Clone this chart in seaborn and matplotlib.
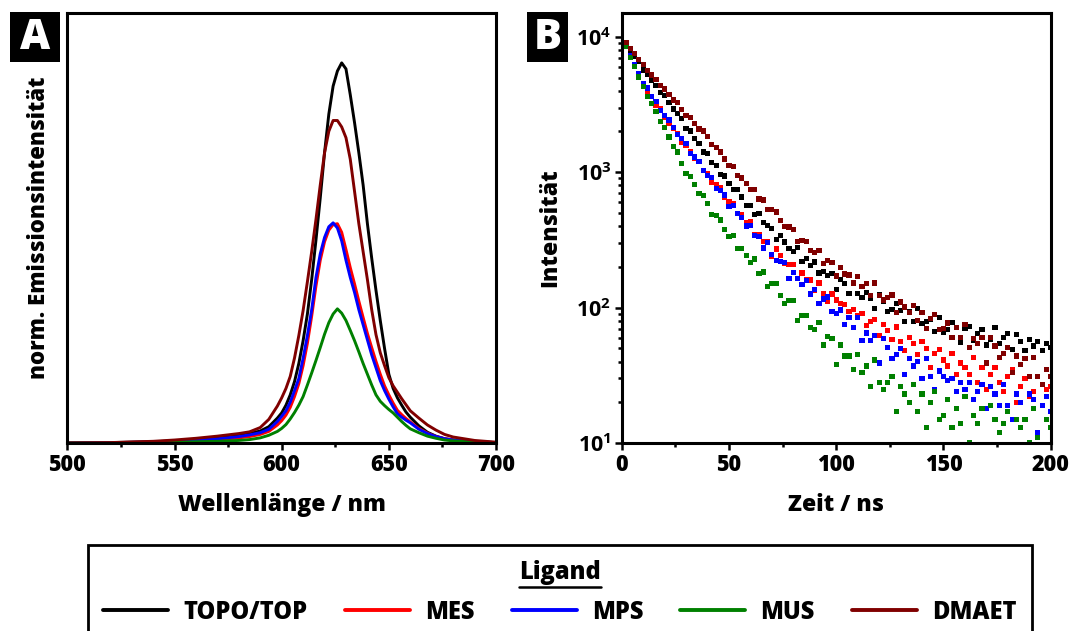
import numpy as np
import pandas as pd
import matplotlib
matplotlib.use("Agg")
import matplotlib.pyplot as plt
import seaborn as sns
from matplotlib.patches import Rectangle
from matplotlib.lines import Line2D
from matplotlib.ticker import MultipleLocator, LogLocator, NullFormatter, FuncFormatter


# Data

ligands = ["TOPO/TOP", "MES", "MPS", "MUS", "DMAET"]
colors = ["#000000", "#ff0000", "#0000ff", "#008000", "#800000"]

# Panel A: normalised emission spectra
wavelength = [500, 520, 540, 550, 560, 570, 580, 585, 590, 594,
              598, 600, 602, 604, 606, 608, 610, 612, 614, 616,
              618, 620, 622, 624, 626, 628, 630, 632, 634, 636,
              638, 640, 642, 644, 646, 648, 650, 652, 654, 656,
              658, 660, 664, 668, 672, 676, 680, 690, 700]
em_topo = [0, 0.001, 0.003, 0.005, 0.008, 0.012, 0.018, 0.022, 0.028, 0.038,
           0.058, 0.07, 0.088, 0.112, 0.143, 0.185, 0.238, 0.3, 0.38, 0.472,
           0.57, 0.675, 0.765, 0.83, 0.865, 0.884, 0.87, 0.81, 0.745, 0.675,
           0.6, 0.51, 0.43, 0.355, 0.285, 0.22, 0.16, 0.127, 0.105, 0.088,
           0.072, 0.06, 0.04, 0.025, 0.016, 0.01, 0.007, 0.003, 0.001]
em_mes = [0, 0.001, 0.002, 0.003, 0.005, 0.008, 0.012, 0.015, 0.02, 0.027,
          0.042, 0.052, 0.065, 0.083, 0.108, 0.138, 0.18, 0.232, 0.295, 0.365,
          0.425, 0.468, 0.495, 0.508, 0.51, 0.49, 0.45, 0.408, 0.37, 0.33,
          0.292, 0.255, 0.222, 0.19, 0.16, 0.133, 0.112, 0.093, 0.076, 0.066,
          0.057, 0.049, 0.034, 0.023, 0.015, 0.01, 0.007, 0.003, 0.001]
em_mps = [0, 0.001, 0.002, 0.004, 0.006, 0.01, 0.015, 0.019, 0.024, 0.032,
          0.05, 0.062, 0.075, 0.095, 0.122, 0.15, 0.197, 0.25, 0.31, 0.385,
          0.44, 0.478, 0.503, 0.512, 0.5, 0.47, 0.425, 0.385, 0.35, 0.31,
          0.275, 0.24, 0.205, 0.175, 0.145, 0.122, 0.102, 0.084, 0.068, 0.06,
          0.053, 0.047, 0.032, 0.022, 0.015, 0.01, 0.007, 0.003, 0.001]
em_mus = [0, 0, 0.001, 0.002, 0.003, 0.004, 0.006, 0.008, 0.012, 0.018,
          0.027, 0.034, 0.043, 0.056, 0.071, 0.088, 0.108, 0.135, 0.163, 0.192,
          0.222, 0.253, 0.28, 0.3, 0.312, 0.302, 0.285, 0.262, 0.238, 0.212,
          0.185, 0.16, 0.135, 0.112, 0.097, 0.087, 0.078, 0.07, 0.06, 0.05,
          0.041, 0.033, 0.024, 0.016, 0.011, 0.007, 0.005, 0.002, 0.001]
em_dmaet = [0, 0.001, 0.004, 0.007, 0.011, 0.016, 0.022, 0.026, 0.036, 0.055,
            0.086, 0.105, 0.127, 0.155, 0.198, 0.25, 0.308, 0.375, 0.445, 0.52,
            0.6, 0.675, 0.725, 0.75, 0.75, 0.735, 0.71, 0.66, 0.585, 0.51,
            0.445, 0.38, 0.31, 0.252, 0.21, 0.18, 0.152, 0.133, 0.118, 0.103,
            0.089, 0.075, 0.058, 0.042, 0.03, 0.02, 0.014, 0.006, 0.002]

# Panel B: decay curves (counts)
time_ns = [0, 2, 4, 6, 8, 10, 12, 14, 16, 18,
           20, 22, 24, 26, 28, 30, 32, 34, 36, 38,
           40, 42, 44, 46, 48, 50, 52, 54, 56, 58,
           60, 62, 64, 66, 68, 70, 72, 74, 76, 78,
           80, 82, 84, 86, 88, 90, 92, 94, 96, 98,
           100, 102, 104, 106, 108, 110, 112, 114, 116, 118,
           120, 122, 124, 126, 128, 130, 132, 134, 136, 138,
           140, 142, 144, 146, 148, 150, 152, 154, 156, 158,
           160, 162, 164, 166, 168, 170, 172, 174, 176, 178,
           180, 182, 184, 186, 188, 190, 192, 194, 196, 198,
           200]
decay_topo = [10000, 9020, 7918, 7144, 6531, 5686, 5291, 4779, 4398, 3893,
              3691, 3287, 2932, 2700, 2480, 2104, 2013, 1773, 1622, 1413,
              1380, 1185, 1116, 968, 939, 826, 747, 742, 657, 565,
              566, 488, 494, 427, 404, 382, 317, 342, 305, 272,
              258, 277, 218, 232, 204, 217, 180, 186, 173, 178,
              137, 161, 151, 127, 151, 127, 118, 130, 117, 98,
              124, 111, 94, 97, 107, 95, 79, 94, 79, 99,
              76, 79, 82, 67, 84, 66, 69, 78, 71, 55,
              70, 73, 57, 64, 69, 53, 58, 71, 54, 60,
              64, 49, 63, 56, 48, 58, 52, 56, 48, 54,
              51]
decay_mes = [10000, 8594, 7235, 6190, 5190, 4547, 3968, 3617, 3138, 2968,
             2555, 2294, 2108, 1941, 1648, 1569, 1410, 1262, 1196, 1023,
             977, 836, 810, 773, 655, 612, 587, 495, 487, 425,
             432, 345, 344, 310, 305, 240, 271, 243, 213, 209,
             209, 165, 180, 162, 160, 134, 152, 126, 112, 126,
             114, 107, 105, 93, 97, 87, 91, 74, 79, 82,
             62, 75, 68, 58, 72, 56, 48, 60, 54, 45,
             56, 50, 36, 46, 49, 41, 37, 46, 32, 39,
             36, 32, 43, 28, 36, 25, 32, 36, 28, 24,
             31, 35, 20, 26, 30, 22, 24, 31, 19, 25,
             26]
decay_mps = [10000, 8661, 7226, 6284, 5346, 4537, 4195, 3615, 3315, 2868,
             2640, 2431, 2134, 1901, 1775, 1637, 1379, 1294, 1196, 1037,
             949, 916, 763, 735, 679, 561, 571, 499, 463, 401,
             403, 341, 333, 276, 303, 246, 224, 220, 215, 165,
             181, 165, 149, 158, 126, 137, 107, 116, 120, 93,
             91, 96, 75, 84, 71, 85, 57, 65, 57, 62,
             39, 59, 51, 42, 45, 50, 32, 42, 37, 40,
             30, 42, 31, 25, 34, 31, 29, 30, 24, 28,
             25, 28, 21, 24, 27, 18, 26, 23, 19, 27,
             19, 15, 23, 20, 15, 23, 21, 12, 19, 22,
             17]
decay_mus = [10000, 8461, 7070, 6029, 5044, 4305, 3649, 3212, 2828, 2356,
             2126, 1820, 1546, 1413, 1166, 985, 933, 816, 700, 671,
             587, 486, 477, 444, 380, 334, 339, 274, 273, 244,
             216, 229, 179, 183, 144, 150, 150, 123, 107, 113,
             113, 80, 87, 88, 71, 69, 78, 53, 61, 59,
             38, 53, 44, 44, 35, 45, 33, 37, 26, 41,
             28, 25, 28, 31, 17, 26, 23, 20, 27, 17,
             23, 13, 20, 24, 15, 16, 21, 13, 18, 14,
             22, 10, 16, 14, 18, 8, 19, 15, 12, 14,
             17, 8, 15, 13, 15, 10, 18, 11, 9, 15,
             13]
decay_dmaet = [10000, 9107, 8196, 7517, 6775, 6213, 5615, 5231, 4870, 4353,
               4125, 3762, 3416, 3256, 2903, 2630, 2524, 2306, 2087, 2013,
               1841, 1599, 1526, 1413, 1252, 1124, 1096, 942, 907, 824,
               745, 748, 634, 623, 534, 530, 509, 442, 396, 394,
               380, 308, 312, 306, 264, 254, 266, 213, 224, 216,
               171, 198, 177, 174, 152, 170, 143, 150, 123, 152,
               123, 114, 119, 124, 92, 110, 101, 92, 103, 80,
               92, 70, 83, 89, 69, 70, 77, 60, 71, 60,
               75, 51, 59, 54, 60, 39, 60, 52, 43, 46,
               51, 33, 44, 38, 42, 31, 43, 31, 27, 35,
               31]


# Long-form tables for seaborn

spectra = [em_topo, em_mes, em_mps, em_mus, em_dmaet]
decays = [decay_topo, decay_mes, decay_mps, decay_mus, decay_dmaet]

spec_df = pd.concat([pd.DataFrame({"wl": wavelength, "I": s, "Ligand": name})
                     for name, s in zip(ligands, spectra)], ignore_index=True)
decay_df = pd.concat([pd.DataFrame({"t": time_ns, "I": d, "Ligand": name})
                      for name, d in zip(ligands, decays)], ignore_index=True)
palette = dict(zip(ligands, colors))


# Style

sns.set_theme(style="ticks")
plt.rcParams["font.family"] = ["Open Sans", "DejaVu Sans"]
plt.rcParams["font.weight"] = "heavy"
plt.rcParams["axes.labelweight"] = "heavy"
plt.rcParams["text.color"] = "black"
plt.rcParams["axes.labelcolor"] = "black"
plt.rcParams["xtick.color"] = "black"
plt.rcParams["ytick.color"] = "black"
plt.rcParams["mathtext.fontset"] = "custom"
plt.rcParams["mathtext.bf"] = "Open Sans:bold"
plt.rcParams["mathtext.rm"] = "Open Sans:bold"

fig = plt.figure(figsize=(10.79, 6.31), dpi=100)
axA = fig.add_axes([0.0624, 0.2979, 0.3973, 0.6815])
axB = fig.add_axes([0.5762, 0.2979, 0.3976, 0.6815])

tick_fs = 15.5
label_fs = 16.5


# Panel A

sns.lineplot(data=spec_df, x="wl", y="I", hue="Ligand", hue_order=ligands,
             palette=palette, linewidth=2.1, estimator=None, legend=False, ax=axA)
axA.set_xlim(500, 700)
axA.set_ylim(0, 1.0)
axA.xaxis.set_major_locator(MultipleLocator(50))
axA.xaxis.set_minor_locator(MultipleLocator(25))
axA.set_yticks([])
axA.set_xlabel("Wellenlänge / nm", fontsize=label_fs, labelpad=11)
axA.set_ylabel("norm. Emissionsintensität", fontsize=16, labelpad=12)


# Panel B

sns.scatterplot(data=decay_df, x="t", y="I", hue="Ligand", hue_order=ligands,
                palette=palette, marker="s", s=14, linewidth=0, legend=False, ax=axB)
axB.set_yscale("log")
axB.set_xlim(0, 200)
axB.set_ylim(10, 15000)
axB.xaxis.set_major_locator(MultipleLocator(50))
axB.xaxis.set_minor_locator(MultipleLocator(25))
axB.yaxis.set_major_locator(LogLocator(base=10, numticks=10))
axB.yaxis.set_minor_locator(LogLocator(base=10, subs=np.arange(2, 10), numticks=20))
axB.yaxis.set_minor_formatter(NullFormatter())
axB.yaxis.set_major_formatter(FuncFormatter(lambda v, p: r"$\mathbf{10^{%d}}$" % round(np.log10(v))))
axB.set_xlabel("Zeit / ns", fontsize=label_fs, labelpad=11)
axB.set_ylabel("Intensität", fontsize=label_fs, labelpad=10)

for ax in (axA, axB):
    for sp in ax.spines.values():
        sp.set_visible(True)
        sp.set_linewidth(2.2)
        sp.set_color("black")
    ax.tick_params(which="major", direction="out", length=5, width=1.8,
                   labelsize=tick_fs, colors="black", pad=2.5)
    ax.tick_params(which="minor", direction="out", length=3, width=1.8, colors="black")
    for lab in ax.get_xticklabels() + ax.get_yticklabels():
        lab.set_fontweight("heavy")


# Panel letters

for x0, w, letter in [(10, 50, "A"), (527, 41, "B")]:
    fig.add_artist(Rectangle((x0 / 1079, 1 - 62 / 631), w / 1079, 50 / 631,
                             transform=fig.transFigure, facecolor="black",
                             edgecolor="none"))
    fig.text((x0 + w / 2) / 1079, 1 - 38 / 631, letter, color="white",
             fontsize=30, fontweight="heavy", ha="center", va="center")


# Legend

handles = [Line2D([], [], color=c, lw=2.8) for c in colors]
leg = fig.legend(handles, ligands, ncol=5, loc="upper center",
                 bbox_to_anchor=(560 / 1079, 1 - 545 / 631), borderaxespad=0,
                 frameon=True, fancybox=False, edgecolor="black", framealpha=1,
                 fontsize=17, title="Ligand",
                 title_fontproperties={"weight": "heavy", "size": 17},
                 handlelength=2.75, handletextpad=0.64, columnspacing=1.58,
                 borderpad=0.65, labelspacing=0.6)
leg.get_frame().set_linewidth(2.0)
for t in leg.get_texts():
    t.set_fontweight("heavy")

# underline under the legend title
fig.canvas.draw()
tb = leg.get_title().get_window_extent().transformed(fig.transFigure.inverted())
fig.add_artist(Line2D([tb.x0, tb.x1], [tb.y0 - 0.003, tb.y0 - 0.003],
                      transform=fig.transFigure, color="black", lw=1.8, zorder=20))

fig.savefig("out.png", dpi=100)
